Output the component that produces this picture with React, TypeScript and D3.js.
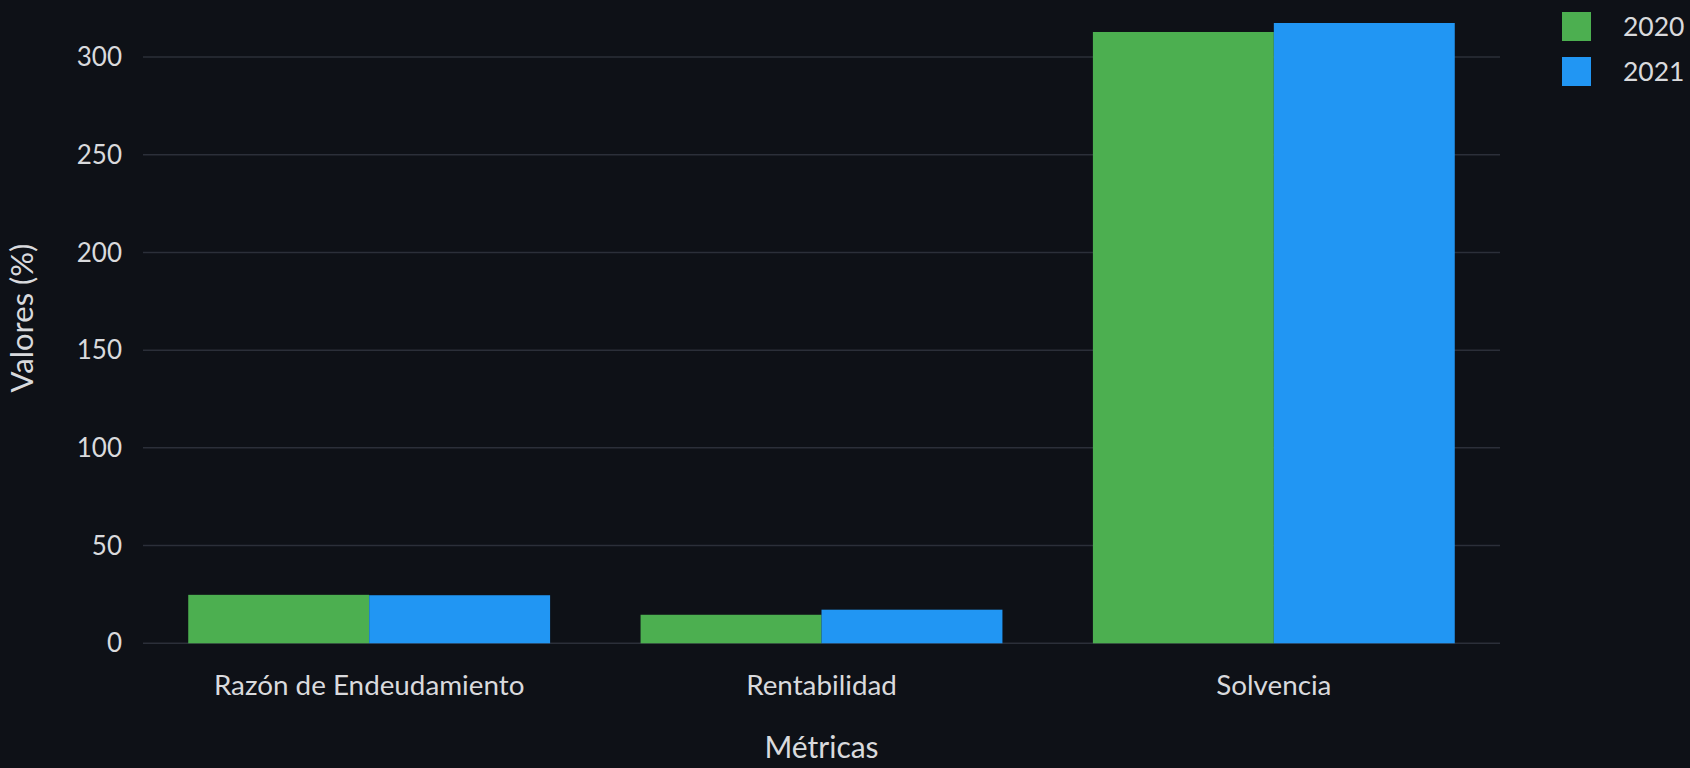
import React from "react";
import * as d3 from "d3";

const categories = ["Razón de Endeudamiento", "Rentabilidad", "Solvencia"];
const seriesNames = ["2020", "2021"];
const values2020 = [24.8, 14.6, 312.8];
const values2021 = [24.6, 17.2, 317.4];
const yTicks = [0, 50, 100, 150, 200, 250, 300];
const colors = ["#4CAF50", "#2196F3"];

const W = 1690;
const H = 768;
const BG = "#0e1117";
const TEXT = "#d9dadd";
const GRID = "#2b2f39";
const FONT = "Lato, 'Open Sans', sans-serif";

export default function App() {
  const x0 = d3.scaleBand<string>().domain(categories).range([143, 1500]).paddingInner(0.2).paddingOuter(0.1);
  const x1 = d3.scaleBand<string>().domain(seriesNames).range([0, x0.bandwidth()]);
  const y = d3.scaleLinear().domain([0, 300]).range([643.3, 57]);
  const series = [values2020, values2021];

  return (
    <svg width={W} height={H} style={{ display: "block", position: "absolute", left: 0, top: 0, background: BG }}>
      <rect x={0} y={0} width={W} height={H} fill={BG} />
      {yTicks.map((t) => (
        <g key={t}>
          <line x1={143} x2={1500} y1={y(t)} y2={y(t)} stroke={GRID} strokeWidth={1.5} />
          <text x={122} y={y(t)} dy="0.35em" textAnchor="end" fill={TEXT} fontFamily={FONT} fontSize={26}>
            {t}
          </text>
        </g>
      ))}
      {categories.map((c, i) => (
        <g key={c} transform={`translate(${x0(c)},0)`}>
          {seriesNames.map((s, j) => (
            <rect
              key={s}
              x={x1(s)}
              y={y(series[j][i])}
              width={x1.bandwidth()}
              height={y(0) - y(series[j][i])}
              fill={colors[j]}
            />
          ))}
        </g>
      ))}
      {categories.map((c) => (
        <text key={c} x={(x0(c) as number) + x0.bandwidth() / 2} y={695} textAnchor="middle" fill={TEXT} fontFamily={FONT} fontSize={27.8}>
          {c}
        </text>
      ))}
      <text x={821.5} y={758} textAnchor="middle" fill={TEXT} fontFamily={FONT} fontSize={30}>
        Métricas
      </text>
      <text transform="translate(33,318) rotate(-90)" textAnchor="middle" fill={TEXT} fontFamily={FONT} fontSize={31}>
        Valores (%)
      </text>
      {seriesNames.map((s, j) => (
        <g key={s}>
          <rect x={1562} y={12 + j * 45} width={29} height={29} fill={colors[j]} />
          <text x={1623} y={26.5 + j * 45} dy="0.35em" fill={TEXT} fontFamily={FONT} fontSize={26.5}>
            {s}
          </text>
        </g>
      ))}
    </svg>
  );
}
